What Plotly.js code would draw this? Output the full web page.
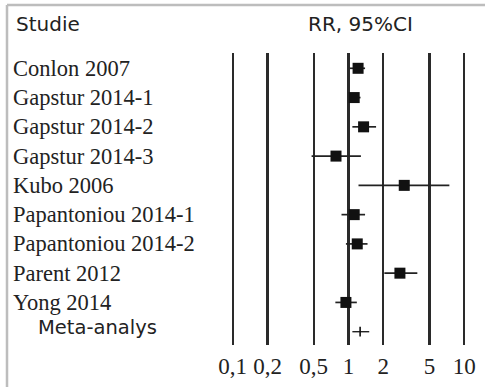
<!DOCTYPE html>
<html>
<head>
<meta charset="utf-8">
<script src="https://cdn.plot.ly/plotly-3.0.1.min.js"></script>
<style>html,body{margin:0;padding:0;background:#fff;}#chart{width:485px;height:387px;}</style>
</head>
<body>
<div id="chart"></div>
<script>
// Data
var studies = ["Conlon 2007","Gapstur 2014-1","Gapstur 2014-2","Gapstur 2014-3","Kubo 2006",
               "Papantoniou 2014-1","Papantoniou 2014-2","Parent 2012","Yong 2014"];
var rr   = [1.21, 1.12, 1.35, 0.78, 3.03, 1.12, 1.19, 2.78, 0.95];
var ciLo = [1.02, 1.03, 1.08, 0.48, 1.22, 0.87, 0.95, 2.04, 0.77];
var ciHi = [1.39, 1.27, 1.73, 1.28, 7.43, 1.39, 1.46, 3.93, 1.18];
var metaLabel = "Meta-analys";
var metaRR = [1.26], metaLo = [1.08], metaHi = [1.51];
var tickVals = [0.1, 0.2, 0.5, 1, 2, 5, 10];
var tickText = ["0,1","0,2","0,5","1","2","5","10"];
var headerLeft = "Studie", headerRight = "RR, 95%CI";

// Layout geometry (pixels)
var W = 485, H = 387, mL = 200, mR = 10, mT = 53, mB = 42;
var pw = W - mL - mR, ph = H - mT - mB;
function px(x){ return (x - mL) / pw; }
function py(y){ return (H - mB - y) / ph; }

var ys = studies.map(function(_, i){ return i; });
var metaY = studies.length;

var traces = [
  {
    type: 'scatter', mode: 'markers', x: rr, y: ys,
    marker: {symbol: 'square', size: 11, color: '#111'},
    error_x: {type: 'data', symmetric: false,
      array: ciHi.map(function(h, i){ return h - rr[i]; }),
      arrayminus: ciLo.map(function(l, i){ return rr[i] - l; }),
      thickness: 1.7, width: 0, color: '#222'},
    hoverinfo: 'skip', showlegend: false
  },
  {
    type: 'scatter', mode: 'markers', x: metaRR, y: [metaY],
    marker: {symbol: 'line-ns', size: 7, line: {width: 1.6, color: '#111'}},
    error_x: {type: 'data', symmetric: false,
      array: [metaHi[0] - metaRR[0]], arrayminus: [metaRR[0] - metaLo[0]],
      thickness: 1.4, width: 0, color: '#222'},
    hoverinfo: 'skip', showlegend: false
  }
];

var annotations = studies.map(function(s, i){
  return {text: s, xref: 'paper', yref: 'y', x: px(11), y: i, xanchor: 'left', yanchor: 'middle',
          showarrow: false, font: {family: 'Liberation Serif, Times New Roman, serif', size: 22.5, color: '#222'}};
});
annotations.push({text: metaLabel, xref: 'paper', yref: 'y', x: px(36), y: metaY - 0.15, xanchor: 'left', yanchor: 'middle',
  showarrow: false, font: {family: 'DejaVu Sans, Verdana, sans-serif', size: 19.5, color: '#222'}});
annotations.push({text: headerLeft, xref: 'paper', yref: 'paper', x: px(14), y: py(24), xanchor: 'left', yanchor: 'middle',
  showarrow: false, font: {family: 'DejaVu Sans, Verdana, sans-serif', size: 20, color: '#222'}});
annotations.push({text: headerRight, xref: 'paper', yref: 'paper', x: px(360.5), y: py(24), xanchor: 'center', yanchor: 'middle',
  showarrow: false, font: {family: 'DejaVu Sans, Verdana, sans-serif', size: 20, color: '#222'}});

var rowPx = (331.7 - 68.3) / 9;
var yTop = -(68.3 - mT) / rowPx;
var yBot = metaY + (H - mB - 331.7) / rowPx;

var pxPerDec = (464.3 - 232.7) / 2;
var xLeft = -1 - (232.7 - mL) / pxPerDec;
var xRight = 1 + (W - mR - 464.3) / pxPerDec;

var layout = {
  width: W, height: H,
  margin: {l: mL, r: mR, t: mT, b: mB, pad: 0},
  paper_bgcolor: '#fff', plot_bgcolor: '#fff',
  xaxis: {type: 'log', range: [xLeft, xRight], tickmode: 'array', tickvals: tickVals, ticktext: tickText,
          showgrid: true, gridcolor: '#2a2a2a', gridwidth: 2.2, zeroline: false, showline: false, ticks: '',
          ticklabelstandoff: 5,
          tickfont: {family: 'Liberation Serif, Times New Roman, serif', size: 23, color: '#222'}},
  yaxis: {range: [yBot, yTop], showgrid: false, zeroline: false, showline: false, showticklabels: false, ticks: ''},
  annotations: annotations,
  shapes: [
    {type: 'line', xref: 'paper', yref: 'paper', x0: px(7), x1: px(W + 5), y0: py(5), y1: py(5), line: {color: '#bdbdbd', width: 2.5}},
    {type: 'line', xref: 'paper', yref: 'paper', x0: px(7), x1: px(7), y0: py(5), y1: py(H + 5), line: {color: '#bdbdbd', width: 2.5}}
  ]
};

Plotly.newPlot('chart', traces, layout, {staticPlot: true, displayModeBar: false});
</script>
</body>
</html>
